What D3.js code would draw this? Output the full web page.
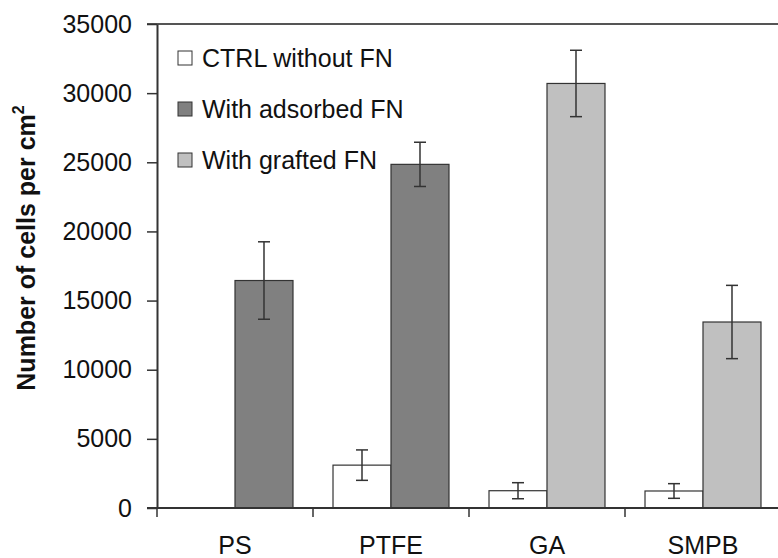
<!DOCTYPE html>
<html>
<head>
<meta charset="utf-8">
<script src="https://cdn.jsdelivr.net/npm/d3@7"></script>
<style>
  body { margin: 0; background: #fff; }
  svg { display: block; font-family: "Liberation Sans", Arial, sans-serif; }
</style>
</head>
<body>
<svg id="chart" width="778" height="558"></svg>
<script>
// data
var categories = ["PS", "PTFE", "GA", "SMPB"];
var ctrlValues = [0, 3100, 1250, 1230];
var ctrlErrors = [0, 1100, 580, 530];
var treatedValues = [16450, 24850, 30700, 13450];
var treatedErrors = [2800, 1600, 2400, 2650];
var treatedSeries = ["adsorbed", "adsorbed", "grafted", "grafted"];
var yTicks = [0, 5000, 10000, 15000, 20000, 25000, 30000, 35000];
var legendLabels = ["CTRL without FN", "With adsorbed FN", "With grafted FN"];

var colors = { ctrl: "#ffffff", adsorbed: "#808080", grafted: "#c0c0c0" };
var legendKeys = ["ctrl", "adsorbed", "grafted"];

var svg = d3.select("#chart"),
  plotLeft = 157, plotRight = 781, plotTop = 24, plotBottom = 508;

var x = d3.scaleBand().domain(categories).range([plotLeft, plotRight]);
var x1 = d3.scaleBand().domain(["ctrl", "treated"]).range([0, x.bandwidth()]).paddingOuter(0.345);
var y = d3.scaleLinear().domain([0, 35000]).range([plotBottom, plotTop]);

// build bar rows
var bars = [];
categories.forEach(function (c, i) {
  bars.push({ cat: c, slot: "ctrl", key: "ctrl", v: ctrlValues[i], e: ctrlErrors[i] });
  bars.push({ cat: c, slot: "treated", key: treatedSeries[i], v: treatedValues[i], e: treatedErrors[i] });
});

// top border line
svg.append("line")
  .attr("x1", plotLeft - 10).attr("x2", 778)
  .attr("y1", y(35000)).attr("y2", y(35000))
  .attr("stroke", "#555").attr("stroke-width", 2);

// bars
svg.selectAll("rect.bar")
  .data(bars.filter(function (d) { return d.v > 0; }))
  .enter().append("rect")
  .attr("class", "bar")
  .attr("x", function (d) { return x(d.cat) + x1(d.slot); })
  .attr("width", x1.bandwidth())
  .attr("y", function (d) { return y(d.v); })
  .attr("height", function (d) { return y(0) - y(d.v); })
  .attr("fill", function (d) { return colors[d.key]; })
  .attr("stroke", "#333")
  .attr("stroke-width", 1.2);

// error bars
var err = svg.selectAll("g.err")
  .data(bars.filter(function (d) { return d.e > 0; }))
  .enter().append("g")
  .attr("class", "err")
  .attr("stroke", "#333")
  .attr("stroke-width", 1.5);
err.append("line")
  .attr("x1", function (d) { return x(d.cat) + x1(d.slot) + x1.bandwidth() / 2; })
  .attr("x2", function (d) { return x(d.cat) + x1(d.slot) + x1.bandwidth() / 2; })
  .attr("y1", function (d) { return y(d.v + d.e); })
  .attr("y2", function (d) { return y(d.v - d.e); });
[1, -1].forEach(function (s) {
  err.append("line")
    .attr("x1", function (d) { return x(d.cat) + x1(d.slot) + x1.bandwidth() / 2 - 6; })
    .attr("x2", function (d) { return x(d.cat) + x1(d.slot) + x1.bandwidth() / 2 + 6; })
    .attr("y1", function (d) { return y(d.v + s * d.e); })
    .attr("y2", function (d) { return y(d.v + s * d.e); });
});

// y axis
var yAxis = svg.append("g")
  .attr("transform", "translate(" + plotLeft + ",0)")
  .call(d3.axisLeft(y).tickValues(yTicks).tickSize(10).tickSizeOuter(0).tickPadding(15).tickFormat(d3.format("d")));
yAxis.select(".domain").attr("stroke", "#333").attr("stroke-width", 2);
yAxis.selectAll(".tick line").attr("stroke", "#333").attr("stroke-width", 1.5);
yAxis.selectAll(".tick text").attr("font-size", 25).attr("fill", "#111")
  .attr("font-family", "'Liberation Sans', Arial, sans-serif");

// x axis
var xAxis = svg.append("g")
  .attr("transform", "translate(0," + plotBottom + ")");
xAxis.append("line")
  .attr("x1", plotLeft - 10).attr("x2", 778)
  .attr("stroke", "#333").attr("stroke-width", 2);
xAxis.selectAll("line.tk")
  .data(categories)
  .enter().append("line")
  .attr("class", "tk")
  .attr("x1", function (d) { return x(d); }).attr("x2", function (d) { return x(d); })
  .attr("y1", 0).attr("y2", 9)
  .attr("stroke", "#333").attr("stroke-width", 1.5);
xAxis.selectAll("text")
  .data(categories)
  .enter().append("text")
  .attr("x", function (d) { return x(d) + x.bandwidth() / 2; })
  .attr("y", 46)
  .attr("text-anchor", "middle")
  .attr("font-size", 25)
  .attr("fill", "#111")
  .text(function (d) { return d; });

// y title
var title = svg.append("text")
  .attr("transform", "translate(35,248) rotate(-90)")
  .attr("text-anchor", "middle")
  .attr("font-size", 25)
  .attr("font-weight", "bold")
  .attr("fill", "#111");
title.append("tspan").text("Number of cells per cm");
title.append("tspan").attr("font-size", 16).attr("dy", -11).text("2");

// legend
var legend = svg.selectAll("g.leg")
  .data(legendLabels)
  .enter().append("g")
  .attr("class", "leg")
  .attr("transform", function (d, i) { return "translate(178," + (58 + i * 51) + ")"; });
legend.append("rect")
  .attr("x", 0).attr("y", -7).attr("width", 14).attr("height", 14)
  .attr("fill", function (d, i) { return colors[legendKeys[i]]; })
  .attr("stroke", "#333").attr("stroke-width", 1);
legend.append("text")
  .attr("x", 24).attr("y", 9)
  .attr("font-size", 25)
  .attr("fill", "#111")
  .text(function (d) { return d; });
</script>
</body>
</html>
